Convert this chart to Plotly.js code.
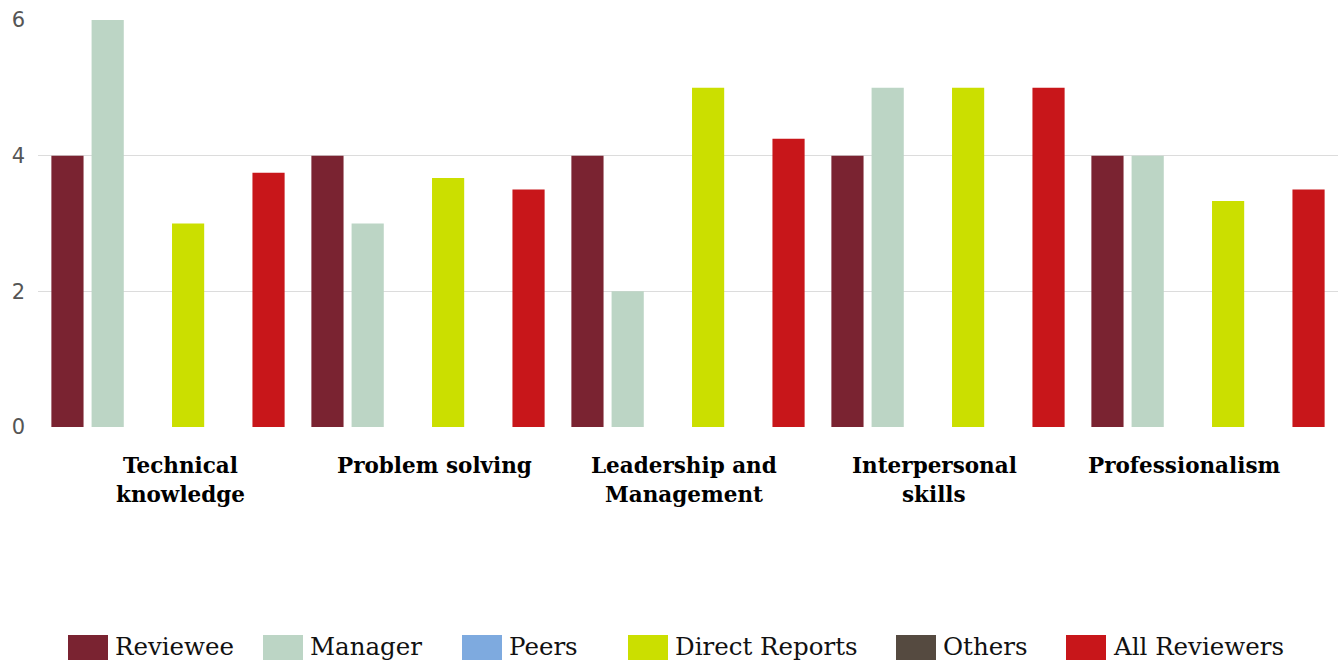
<!DOCTYPE html>
<html>
<head>
<meta charset="utf-8">
<script src="https://cdn.plot.ly/plotly-3.0.1.min.js"></script>
<style>html,body{margin:0;padding:0;background:#fff;}#chart{width:1343px;height:662px;}</style>
</head>
<body>
<div id="chart"></div>
<script>
const categories = ["Technical<br>knowledge", "Problem solving", "Leadership and<br>Management", "Interpersonal<br>skills", "Professionalism"];
const seriesNames = ["Reviewee", "Manager", "Peers", "Direct Reports", "Others", "All Reviewers"];
const reviewee = [4, 4, 4, 4, 4];
const manager = [6, 3, 2, 5, 4];
const peers = [null, null, null, null, null];
const directReports = [3, 3.67, 5, 5, 3.33];
const others = [null, null, null, null, null];
const allReviewers = [3.75, 3.5, 4.25, 5, 3.5];
const yTickVals = [0, 2, 4, 6];

const seriesValues = [reviewee, manager, peers, directReports, others, allReviewers];
const colors = ["#7a2331", "#bcd5c5", "#7eaadf", "#cbdf00", "#554a40", "#c8161a"];

// layout geometry (pixels)
const W = 1343, H = 662, mL = 38, mR = 5, mT = 20, mB = 235;
const pw = W - mL - mR, ph = H - mT - mB;
const px2x = p => (p - mL) / pw;
const py2y = p => (H - mB - p) / ph;

const traces = seriesNames.map((n, i) => ({
  type: "bar",
  name: n,
  x: categories,
  y: seriesValues[i],
  marker: {color: colors[i], line: {width: 0}},
  hoverinfo: "x+y+name"
}));

// category labels as annotations (one per line)
const labelShift = [12, 6, -4, -14, -24];
const lineY = [465, 494];
const annotations = [];
categories.forEach((c, i) => {
  c.split("<br>").forEach((line, j) => {
    annotations.push({
      x: c, xref: "x", y: py2y(lineY[j]), yref: "paper",
      text: line, showarrow: false, xanchor: "center", yanchor: "middle",
      xshift: labelShift[i],
      font: {family: "DejaVu Serif", size: 21.5, color: "#000", weight: "bold"}
    });
  });
});

// custom legend
const legendX = [68, 263, 462, 628, 896, 1066];
const shapes = [];
seriesNames.forEach((n, i) => {
  shapes.push({
    type: "rect", xref: "paper", yref: "paper",
    x0: px2x(legendX[i]), x1: px2x(legendX[i] + 40),
    y0: py2y(660), y1: py2y(635),
    fillcolor: colors[i], line: {width: 0}
  });
  annotations.push({
    x: px2x(legendX[i] + 45), xref: "paper", y: py2y(646), yref: "paper",
    text: n, showarrow: false, xanchor: "left", yanchor: "middle",
    font: {family: "DejaVu Serif", size: 24.5, color: "#111"}
  });
});

const layout = {
  width: W, height: H,
  margin: {l: mL, r: mR, t: mT, b: mB, pad: 0},
  paper_bgcolor: "#fff", plot_bgcolor: "#fff",
  barmode: "group", bargap: 0.072, bargroupgap: 0.2,
  showlegend: false,
  xaxis: {showticklabels: false, showgrid: false, zeroline: false, showline: false, ticks: ""},
  yaxis: {
    range: [0, 6], tickvals: yTickVals, showgrid: true, gridcolor: "#dcdcdc", gridwidth: 1,
    zeroline: true, zerolinecolor: "rgba(0,0,0,0)", showline: false, ticks: "",
    ticklabelstandoff: 12,
    tickfont: {family: "DejaVu Sans", size: 21, color: "#555"}
  },
  annotations: annotations,
  shapes: shapes
};

Plotly.newPlot("chart", traces, layout, {displayModeBar: false, staticPlot: true});
</script>
</body>
</html>
